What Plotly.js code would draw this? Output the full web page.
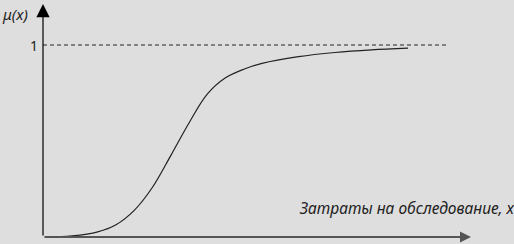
<!DOCTYPE html>
<html><head><meta charset="utf-8">
<script src="https://cdn.plot.ly/plotly-3.0.1.min.js"></script>
<style>html,body{margin:0;padding:0;background:#dedede;}#c{width:514px;height:244px;}</style>
</head><body><div id="c"></div>
<script>
// Membership curve μ(x) vs. examination costs (arbitrary units 0..10)
const costX = [0.05, 0.8, 1.5, 2.0, 2.5, 3.0, 3.5, 4.0, 4.5, 5.0, 5.5, 6.0, 7.0, 8.0, 9.0, 10.0];
const muY   = [0.0, 0.006, 0.027, 0.064, 0.139, 0.259, 0.424, 0.594, 0.744, 0.829, 0.874, 0.904, 0.939, 0.961, 0.975, 0.984];
const levelX = [0, 11.07];
const levelY = [1, 1];
const yTickVals = [1];
const yTickText = ['1'];
const yLabel = 'μ(x)';
const xLabel = 'Затраты на обследование, x';

const font = 'Noto Sans, sans-serif';
const data = [
  {x: levelX, y: levelY, mode: 'lines', line: {color: '#222', width: 1, dash: '4px,3px'}, hoverinfo: 'skip'},
  {x: costX, y: muY, mode: 'lines', line: {color: '#222', width: 1.2, shape: 'spline', smoothing: 1}, hoverinfo: 'skip'}
];
const layout = {
  width: 514, height: 244,
  margin: {l: 0, r: 0, t: 0, b: 0},
  paper_bgcolor: '#dedede', plot_bgcolor: '#dedede',
  showlegend: false,
  xaxis: {range: [-43/36.5, (514-43)/36.5], showgrid: false, zeroline: false, showticklabels: false, ticks: ''},
  yaxis: {range: [-7/192, 237/192], showgrid: false, zeroline: false, showticklabels: false, ticks: ''},
  annotations: [
    {x: 0, y: (237-4)/192, ax: 0, ay: 0, xref: 'x', yref: 'y', axref: 'x', ayref: 'y', showarrow: true, arrowhead: 2, arrowsize: 2.2, arrowwidth: 1.2, arrowcolor: '#000', text: ''},
    {x: (471-43)/36.5, y: 0, ax: 0, ay: 0, xref: 'x', yref: 'y', axref: 'x', ayref: 'y', showarrow: true, arrowhead: 2, arrowsize: 1.0, arrowwidth: 2.2, arrowcolor: '#555', text: ''},
    {x: -3/36.5, y: yTickVals[0], xref: 'x', yref: 'y', xanchor: 'right', text: yTickText[0], showarrow: false, font: {family: font, size: 14, color: '#222'}},
    {x: 0, y: (237-14)/192, xref: 'paper', yref: 'y', xanchor: 'left', text: '<i>' + yLabel + '</i>', showarrow: false, font: {family: font, size: 15, color: '#222'}},
    {x: 1, y: (237-208)/192, xref: 'paper', yref: 'y', xanchor: 'right', xshift: 3, text: '<i>' + xLabel + '</i>', showarrow: false, font: {family: font, size: 15.5, color: '#222'}}
  ]
};
Plotly.newPlot('c', data, layout, {staticPlot: true});
</script></body></html>
